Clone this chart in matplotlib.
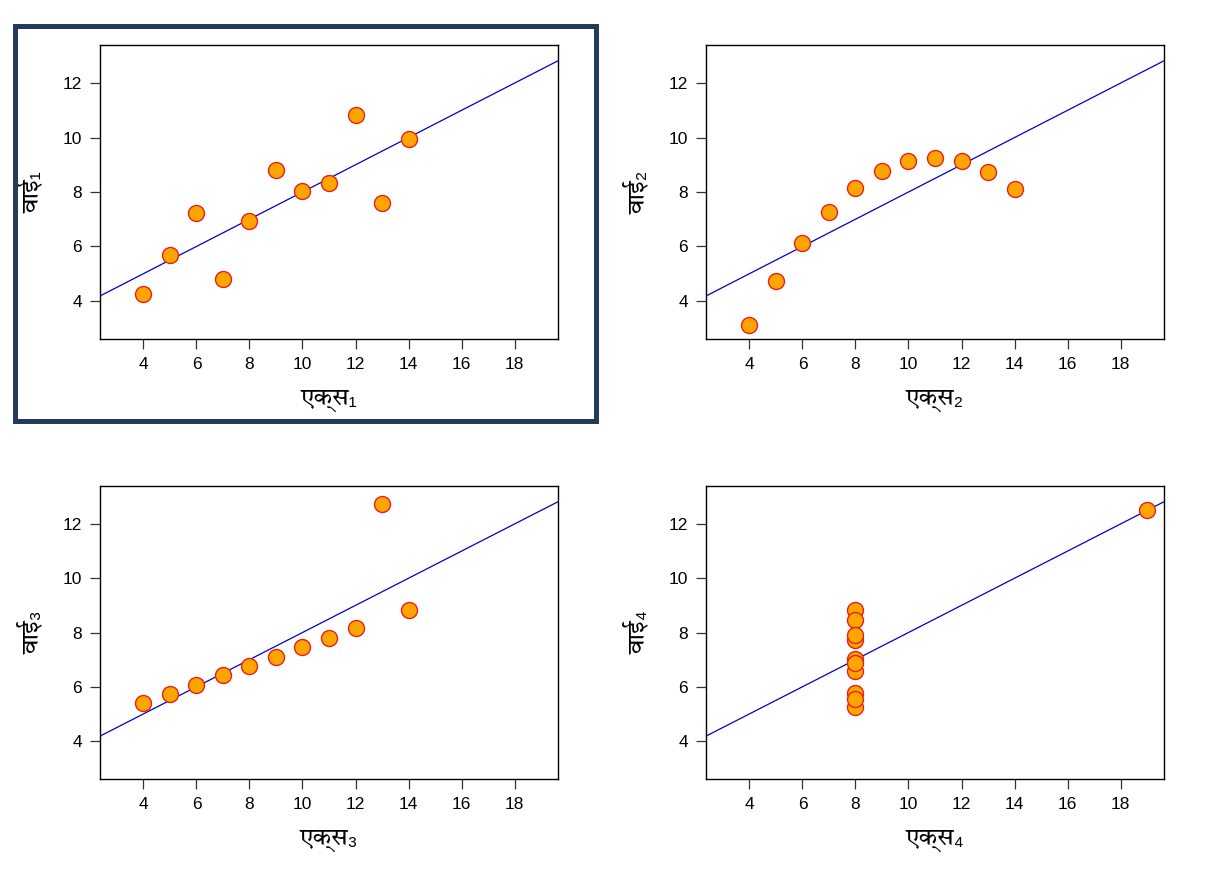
import matplotlib
matplotlib.use("Agg")
import matplotlib.pyplot as plt
from matplotlib import font_manager
from matplotlib.ft2font import FT2Font
from matplotlib.patches import Rectangle

# ---- data (Anscombe's quartet) ----
x123 = [10, 8, 13, 9, 11, 14, 6, 4, 12, 7, 5]
y1 = [8.04, 6.95, 7.58, 8.81, 8.33, 9.96, 7.24, 4.26, 10.84, 4.82, 5.68]
y2 = [9.14, 8.14, 8.74, 8.77, 9.26, 8.10, 6.13, 3.10, 9.13, 7.26, 4.74]
y3 = [7.46, 6.77, 12.74, 7.11, 7.81, 8.84, 6.08, 5.39, 8.15, 6.42, 5.73]
x4 = [8, 8, 8, 8, 8, 8, 8, 19, 8, 8, 8]
y4 = [6.58, 5.76, 7.71, 8.84, 8.47, 7.04, 5.25, 12.50, 5.56, 7.91, 6.89]
fit_intercept = 3.0
fit_slope = 0.5
xticks = [4, 6, 8, 10, 12, 14, 16, 18]
yticks = [4, 6, 8, 10, 12]
xlabels = ["एक्स₁", "एक्स₂", "एक्स₃", "एक्स₄"]
ylabels = ["वाई₁", "वाई₂", "वाई₃", "वाई₄"]

# ---- find a font with Devanagari glyphs (prefer sans families) ----
cands = []
for f in font_manager.fontManager.ttflist:
    try:
        cm = FT2Font(f.fname).get_charmap()
    except Exception:
        continue
    if 0x0915 in cm and 0x094D in cm:
        score = 0
        n = f.name.lower()
        if "devanagari" in n:
            score += 2
        if "sans" in n:
            score += 1
        if "mono" in n:
            score -= 3
        cands.append((score, f.name))
cands.sort(reverse=True)
deva = cands[0][1] if cands else None
fams = ([deva] if deva else []) + ["Liberation Sans", "DejaVu Sans"]
plt.rcParams["font.family"] = ["Liberation Sans", "DejaVu Sans"]

W, H = 1210, 880
fig = plt.figure(figsize=(W / 100, H / 100), dpi=100)

def rect(x0, y0, x1, y1):
    return [x0 / W, 1 - y1 / H, (x1 - x0) / W, (y1 - y0) / H]

boxes = [(100, 45, 558, 339), (706, 45, 1164, 339),
         (100, 486, 558, 779), (706, 486, 1164, 779)]
xs = [x123, x123, x123, x4]
ys = [y1, y2, y3, y4]

for i in range(4):
    ax = fig.add_axes(rect(*boxes[i]))
    ax.set_xlim(2.36, 19.64)
    ax.set_ylim(2.6, 13.4)
    ax.axline((0, fit_intercept), slope=fit_slope, color="#0000cc", lw=0.9, zorder=2)
    ax.plot(xs[i], ys[i], "o", ms=11.5, mfc="#FFA500", mec="#e8201a", mew=1.0,
            zorder=3, linestyle="none")
    ax.set_xticks(xticks)
    ax.set_yticks(yticks)
    ax.tick_params(labelsize=12.5, length=7, width=0.9, color="#333333", pad=6)
    for s in ax.spines.values():
        s.set_linewidth(1.0)
    ax.set_xlabel(xlabels[i], fontsize=17.5, family=fams, labelpad=11)
    ax.set_ylabel(ylabels[i], fontsize=17.5, family=fams, labelpad=13)

# highlight frame around first panel
fig.patches.append(Rectangle((15 / W, 1 - 421 / H), (596 - 15) / W, (421 - 26) / H,
                             transform=fig.transFigure, fill=False,
                             edgecolor="#263a5c", lw=3.6, zorder=10))

fig.savefig("out.png", dpi=100)
